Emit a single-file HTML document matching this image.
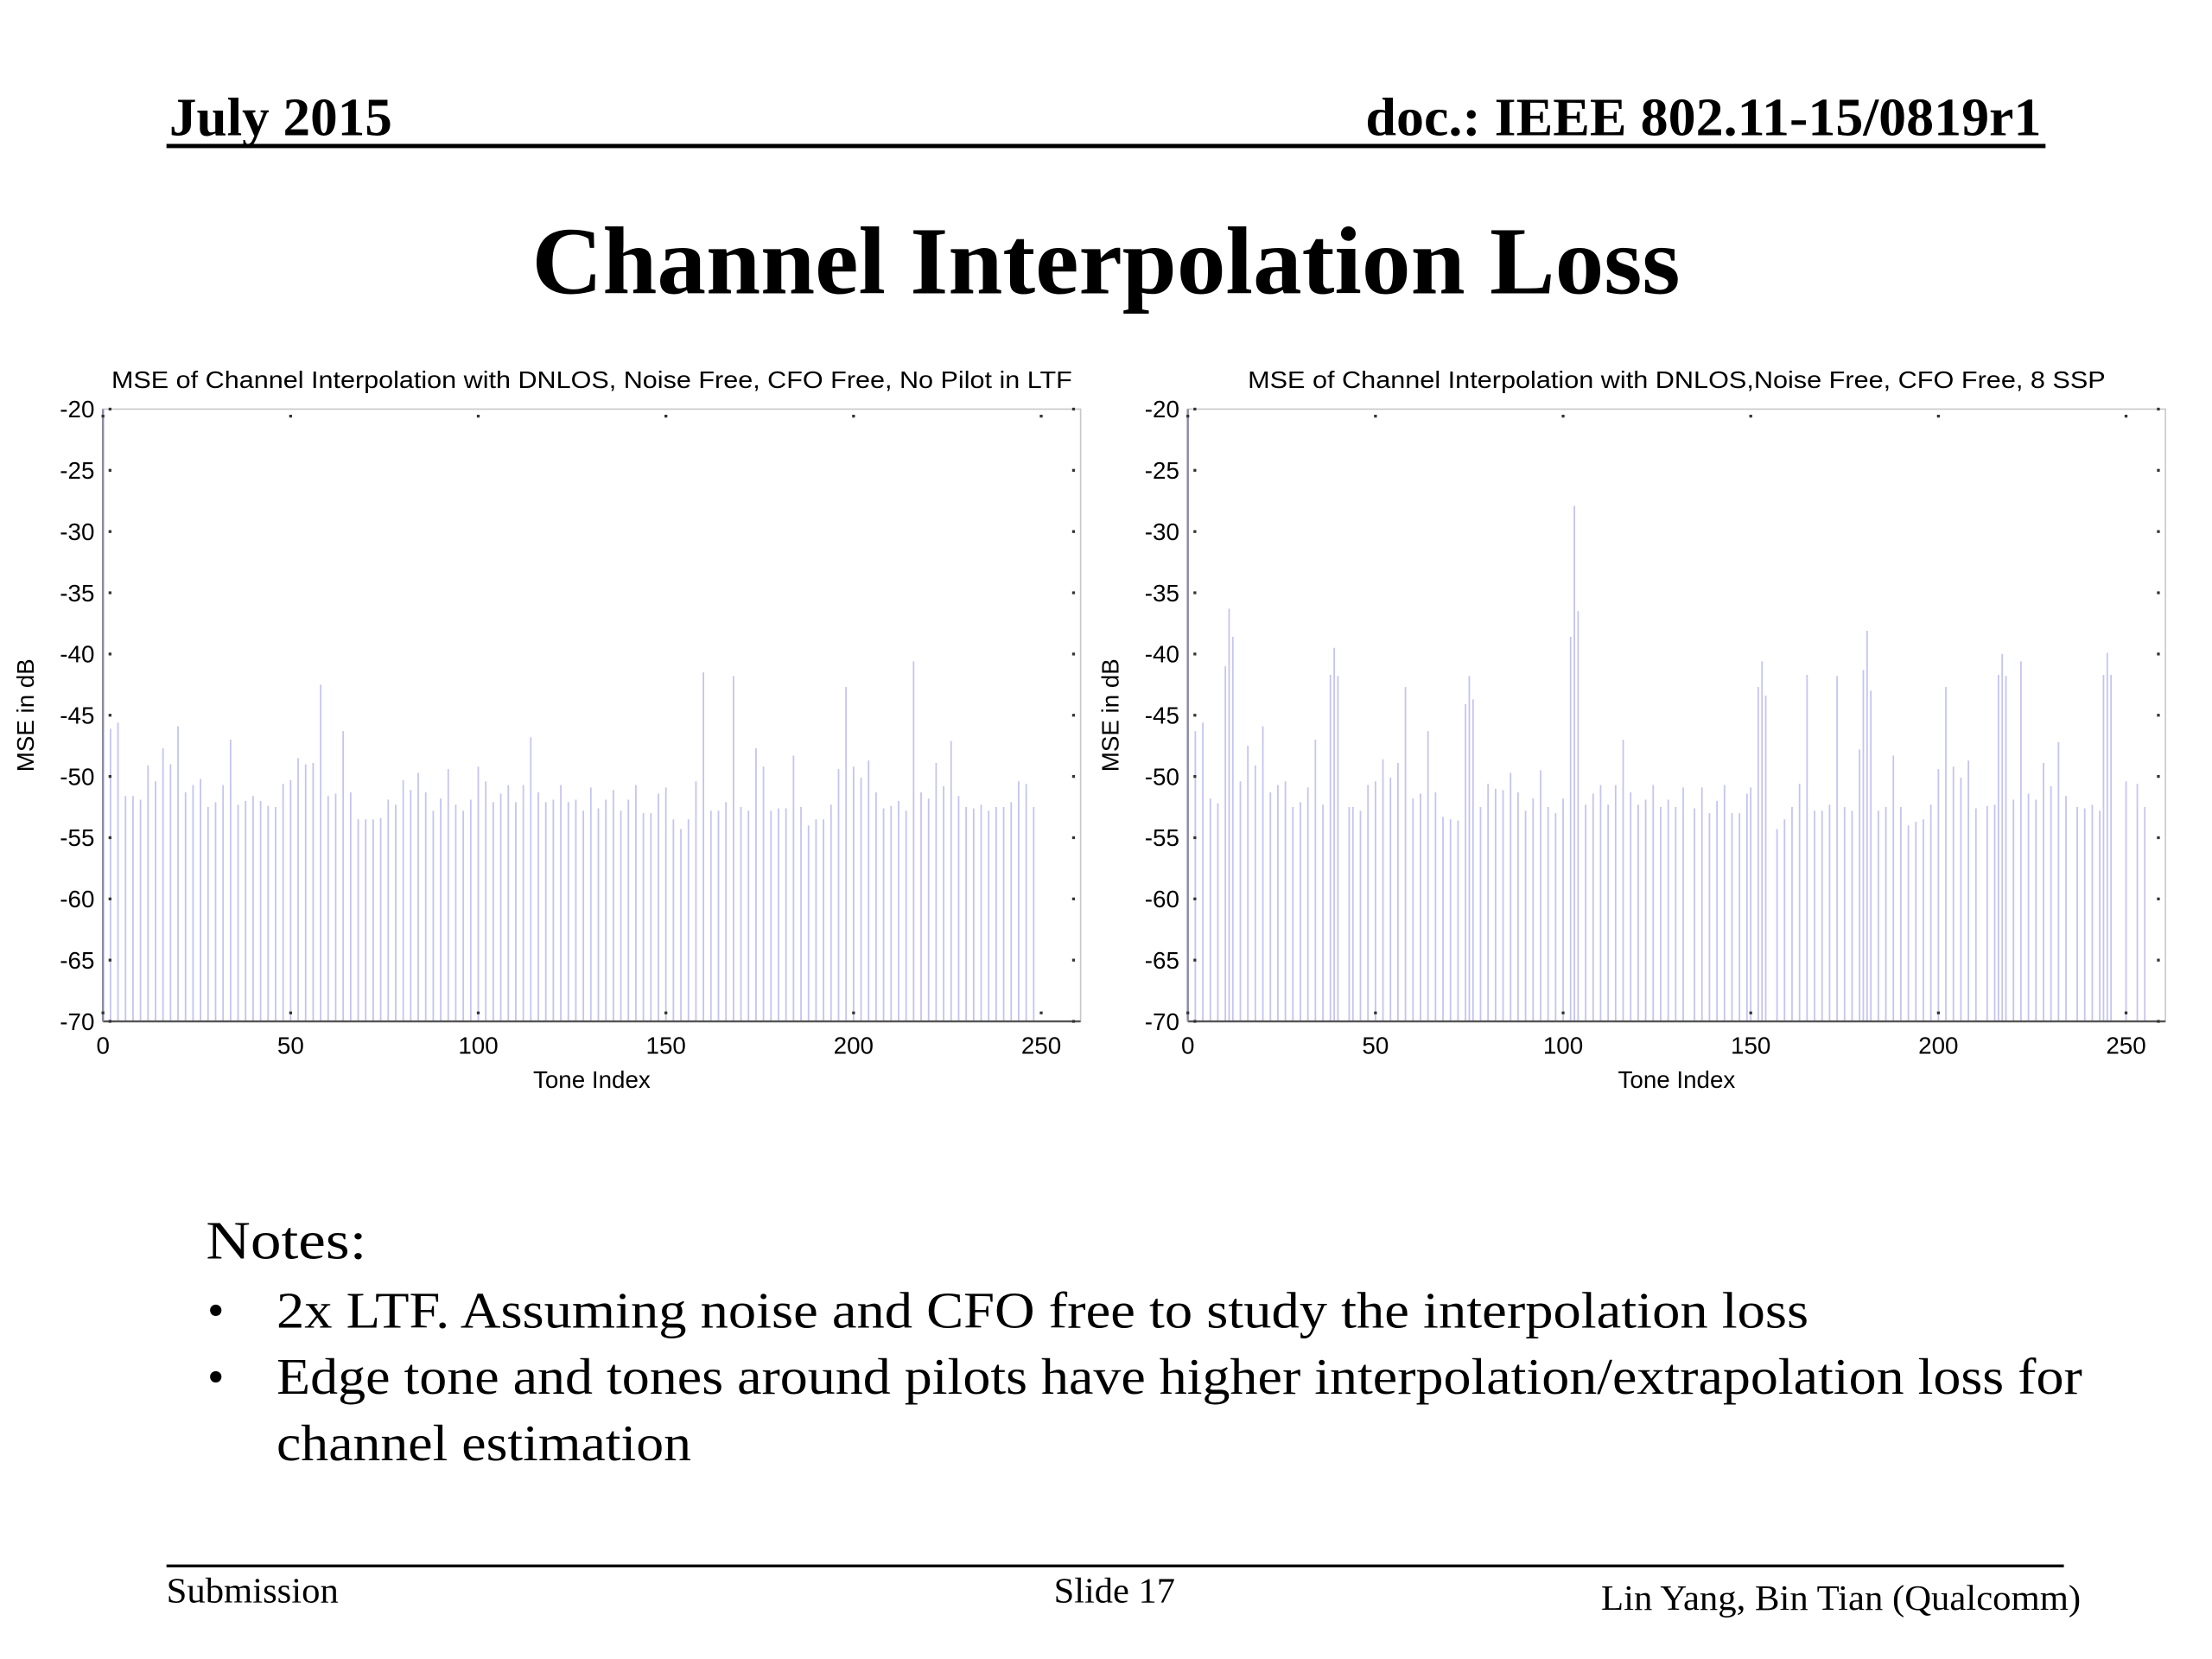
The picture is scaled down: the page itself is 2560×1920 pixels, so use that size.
<!DOCTYPE html>
<html><head><meta charset="utf-8"><style>
html,body{margin:0;padding:0;background:#fff;}
svg{display:block;}
.ser{font-family:"Liberation Serif",serif;}
.san{font-family:"Liberation Sans",sans-serif;}
</style></head><body>
<svg id="slide" width="2560" height="1920" viewBox="0 0 1568 1176" xmlns="http://www.w3.org/2000/svg">
<rect width="1568" height="1176" fill="#fff"/>
<text class="ser" x="120" y="96" font-size="38" font-weight="bold" textLength="158" lengthAdjust="spacingAndGlyphs">July 2015</text>
<text class="ser" x="968" y="96" font-size="38" font-weight="bold" textLength="479" lengthAdjust="spacingAndGlyphs">doc.: IEEE 802.11-15/0819r1</text>
<rect x="118" y="102" width="1332" height="3" fill="#000"/>
<text class="ser" x="377" y="208" font-size="68" font-weight="bold" textLength="814" lengthAdjust="spacingAndGlyphs">Channel Interpolation Loss</text>

<g id="chartL"></g>
<g id="chartR"></g>

<text class="ser" x="146" y="892" font-size="38" textLength="114" lengthAdjust="spacingAndGlyphs">Notes:</text>
<text class="ser" x="147" y="940" font-size="34">•</text>
<text class="ser" x="196" y="941" font-size="36" textLength="1086" lengthAdjust="spacingAndGlyphs">2x LTF.  Assuming noise and CFO free to study the interpolation loss</text>
<text class="ser" x="147" y="987" font-size="34">•</text>
<text class="ser" x="196" y="988" font-size="36" textLength="1280" lengthAdjust="spacingAndGlyphs">Edge tone and tones around pilots have higher interpolation/extrapolation loss for</text>
<text class="ser" x="196" y="1035" font-size="36" textLength="294" lengthAdjust="spacingAndGlyphs">channel estimation</text>

<rect x="118" y="1109" width="1345" height="2" fill="#000"/>
<text class="ser" x="118" y="1136" font-size="25" textLength="122" lengthAdjust="spacingAndGlyphs">Submission</text>
<text class="ser" x="747" y="1136" font-size="25" textLength="86" lengthAdjust="spacingAndGlyphs">Slide 17</text>
<text class="ser" x="1135" y="1141" font-size="25" textLength="340" lengthAdjust="spacingAndGlyphs">Lin Yang, Bin Tian (Qualcomm)</text>
</svg>
<script>
const xTicks = [0, 50, 100, 150, 200, 250];
const yTicks = [-20, -25, -30, -35, -40, -45, -50, -55, -60, -65, -70];
const leftTitle = "MSE of Channel Interpolation with DNLOS, Noise Free, CFO Free, No Pilot in LTF";
const rightTitle = "MSE of Channel Interpolation with DNLOS,Noise Free, CFO Free, 8 SSP";
// left chart: MSE value every 2 tones starting at tone 0
const leftValues = [-21,-46.1,-45.6,-51.6,-51.6,-51.9,-49.1,-50.4,-47.7,-49.0,-45.9,-51.3,-50.7,-50.2,-52.5,-52.1,-50.7,-47.0,-52.3,-52.0,-51.6,-52.0,-52.4,-52.5,-50.6,-50.3,-48.5,-49.0,-48.9,-42.5,-51.6,-51.4,-46.3,-51.3,-53.5,-53.5,-53.5,-53.4,-51.9,-52.3,-50.3,-51.1,-49.7,-51.3,-52.8,-51.8,-49.4,-52.3,-52.8,-51.9,-49.2,-50.4,-52.1,-51.4,-50.7,-52.1,-50.7,-46.8,-51.3,-52.1,-51.9,-50.7,-52.1,-51.9,-52.8,-50.9,-52.6,-51.9,-51.1,-52.8,-51.9,-50.7,-53.0,-53.0,-51.4,-50.9,-53.5,-54.3,-53.5,-50.4,-41.5,-52.8,-52.8,-52.1,-41.8,-52.5,-52.8,-47.7,-49.2,-52.8,-52.6,-52.6,-48.3,-52.5,-54.0,-53.5,-53.5,-52.3,-49.4,-42.7,-49.2,-50.1,-48.7,-51.3,-52.6,-52.4,-52.0,-52.8,-40.6,-51.3,-51.8,-48.9,-50.8,-47.1,-51.6,-52.5,-52.6,-52.3,-52.8,-52.5,-52.5,-52.1,-50.4,-50.6,-52.5];
const leftStep = 2;
// right chart: explicit tone indices and values
const rightTones = [0,2,4,6,8,10,11,12,14,16,18,20,22,24,26,28,30,32,34,36,38,39,40,43,44,46,48,50,52,54,56,58,60,62,64,66,68,70,72,74,75,76,78,80,82,84,86,88,90,92,94,96,98,100,102,103,104,106,108,110,112,114,116,118,120,122,124,126,128,130,132,135,137,139,141,143,145,147,149,150,152,153,154,157,159,161,163,165,167,169,171,173,175,177,179,180,181,182,184,186,188,190,192,194,196,198,200,202,204,206,208,210,213,215,216,217,218,220,222,224,226,228,230,232,234,237,239,241,243,244,245,246,250,253,255];
const rightValues = [-25,-46.3,-45.6,-51.8,-52.2,-41.0,-36.3,-38.6,-50.4,-47.5,-49.1,-45.9,-51.3,-50.7,-50.4,-52.5,-52.1,-50.9,-47.0,-52.3,-41.7,-39.5,-41.8,-52.5,-52.5,-52.8,-50.7,-50.4,-48.6,-50.1,-48.9,-42.7,-51.8,-51.4,-46.3,-51.3,-53.3,-53.5,-53.6,-44.1,-41.8,-43.7,-52.5,-50.6,-51.0,-51.1,-49.7,-51.3,-52.8,-51.8,-49.5,-52.5,-53.0,-51.8,-38.6,-27.9,-36.5,-52.3,-51.4,-50.7,-52.3,-50.7,-47.0,-51.3,-52.3,-51.9,-50.7,-52.5,-51.9,-52.5,-50.9,-52.6,-50.9,-53.0,-52.0,-50.7,-53.0,-53.0,-51.4,-50.9,-42.7,-40.6,-43.4,-54.3,-53.5,-52.5,-50.6,-41.7,-52.8,-52.8,-52.3,-41.8,-52.5,-52.8,-47.8,-41.3,-38.1,-43.0,-52.8,-52.5,-48.3,-52.5,-54.0,-53.7,-53.5,-52.3,-49.4,-42.7,-49.2,-50.1,-48.7,-52.6,-52.4,-52.3,-41.7,-40.0,-41.8,-51.9,-40.6,-51.4,-51.9,-48.9,-50.8,-47.2,-51.6,-52.5,-52.6,-52.3,-52.8,-41.7,-39.9,-41.7,-50.4,-50.6,-52.5];

const NS = "http://www.w3.org/2000/svg";
function mk(tag, attrs, parent){ const e=document.createElementNS(NS,tag); for(const k in attrs) e.setAttribute(k,attrs[k]); parent.appendChild(e); return e; }

function drawChart(g, left, title, tones, values){
  const top=290, bottom=724, width=693, right=left+width;
  const xMin=0, xMax=260.5, yMin=-70, yMax=-20;
  const xs = t => left + (t-xMin)/(xMax-xMin)*width;
  const ys = v => bottom - (v-yMin)/(yMax-yMin)*(bottom-top);
  const t = mk('text',{x:(left+right)/2,y:275,'font-size':17,'text-anchor':'middle','font-family':'Liberation Sans, sans-serif',textLength:(title.length>70?681:608),lengthAdjust:'spacingAndGlyphs'},g);
  
  
  t.textContent = title;
  const frame = mk('rect',{x:left,y:top,width:width,height:bottom-top,fill:'none',stroke:'#c8c8c8','stroke-width':1},g);
  
  
  for(let i=0;i<values.length;i++){
    const ln = mk('line',{x1:xs(tones[i]),x2:xs(tones[i]),y1:bottom,y2:ys(values[i]),stroke:'#c4c4f2','stroke-width':1.1},g);
    
    
  }
  const ax = mk('line',{x1:left,x2:right,y1:bottom,y2:bottom,stroke:'#555','stroke-width':1.5},g);
  
  
  const ay = mk('line',{x1:left,x2:left,y1:top,y2:bottom,stroke:'#8a8aa8','stroke-width':1.5},g);
  
  
  xTicks.forEach(v=>{
    const x=xs(v);
    mk('rect',{x:x-1,y:bottom-7,width:2,height:2,fill:'#333'},g);
    mk('rect',{x:x-1,y:top+4,width:2,height:2,fill:'#333'},g);
    const lb = mk('text',{x:x,y:747,'font-size':17,'text-anchor':'middle','font-family':'Liberation Sans, sans-serif'},g);
    
    
    lb.textContent = v;
  });
  yTicks.forEach(v=>{
    const y=ys(v);
    mk('rect',{x:left+4,y:y-1,width:2,height:2,fill:'#333'},g);
    mk('rect',{x:right-6,y:y-1,width:2,height:2,fill:'#333'},g);
    const lb = mk('text',{x:left-6,y:y+6,'font-size':17,'text-anchor':'end','font-family':'Liberation Sans, sans-serif'},g);
    
    
    lb.textContent = v;
  });
  const xt = mk('text',{x:(left+right)/2,y:771,'font-size':17,'text-anchor':'middle','font-family':'Liberation Sans, sans-serif'},g);
  
  
  xt.textContent = 'Tone Index';
  const yt = mk('text',{x:0,y:0,'font-size':17,'text-anchor':'middle','font-family':'Liberation Sans, sans-serif',transform:`translate(${left-49},507) rotate(-90)`},g);
  
  
  yt.textContent = 'MSE in dB';
}
const leftTones = leftValues.map((v,i)=>i*leftStep);
drawChart(document.getElementById('chartL'), 73, leftTitle, leftTones, leftValues);
drawChart(document.getElementById('chartR'), 842, rightTitle, rightTones, rightValues);
</script>
</body></html>
